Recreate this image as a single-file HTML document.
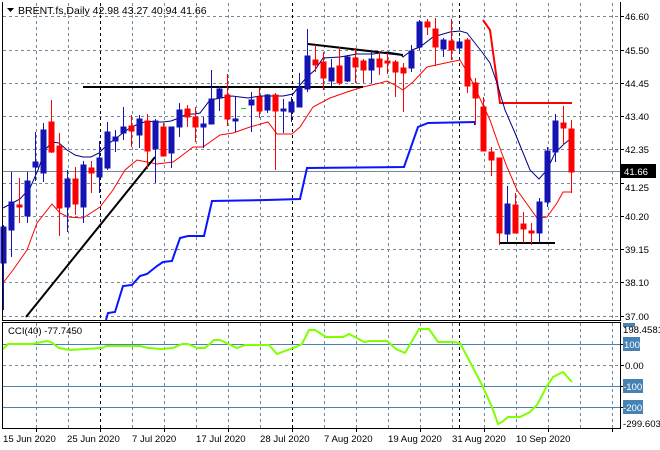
<!DOCTYPE html>
<html><head><meta charset="utf-8"><style>
html,body{margin:0;padding:0;background:#fff;}
svg{display:block;}
text{font-family:"Liberation Sans",sans-serif;font-size:9.6px;fill:#000;}
</style></head><body>
<svg width="660" height="450" viewBox="0 0 660 450" xmlns="http://www.w3.org/2000/svg">
<rect width="660" height="450" fill="#fff"/>
<g stroke="#778899" stroke-width="1" stroke-dasharray="3,3" fill="none">
<path d="M3 16.5H620M3 50.5H620M3 83.5H620M3 116.5H620M3 149.5H620M3 183.5H620M3 216.5H620M3 249.5H620M3 282.5H620M3 316.5H620"/>
<path d="M36.5 3V320M68.5 3V320M132.5 3V320M164.5 3V320M196.5 3V320M228.5 3V320M260.5 3V320M324.5 3V320M356.5 3V320M388.5 3V320M420.5 3V320M452.5 3V320M484.5 3V320M516.5 3V320M548.5 3V320M580.5 3V320M612.5 3V320"/>
<path d="M36.5 323V428M68.5 323V428M132.5 323V428M164.5 323V428M196.5 323V428M228.5 323V428M260.5 323V428M324.5 323V428M356.5 323V428M388.5 323V428M420.5 323V428M452.5 323V428M484.5 323V428M516.5 323V428M548.5 323V428M580.5 323V428M612.5 323V428"/>
<path d="M3 365.5H620"/>
</g>
<g stroke="#000" stroke-width="1" stroke-dasharray="3,3">
<path d="M100.5 3V320M292.5 3V320M459.5 3V320M100.5 323V428M292.5 323V428M459.5 323V428"/>
</g>
<path d="M3 171.5H620" stroke="#778899" stroke-width="1"/>
<polyline fill="none" stroke="#0a14ff" stroke-width="2" points="106,320 108,313 115,312 123,286 132,285 140,276 147,274 157,266 163,262 172,261 180,238 188,236 204,236 212,201 267,200 300,199 307,168 404,167 418,127 428,123 475,122 475,125"/>
<polyline fill="none" stroke="#ff0000" stroke-width="2" points="483,20 490,30 500,103 572,103"/>
<polyline fill="none" stroke="#000080" stroke-width="1" points="3,208 20,199 30,188 38,170 45,150 52,142 59,143 67,150 75,155 83,157 91,157 99,153 107,145 115,139 123,133 131,127 139,124 147,121 155,122 163,122 171,121 179,118 187,114 195,114 200,113 210,100 232,96 248,98 260,96 270,96 283,96 293,94 300,85 307,77 315,70 323,58 340,57 357,54 373,54 387,52 400,54 403,57 412,50 420,47 433,37 450,32 460,31 467,33 482,52 490,63 497,83 505,110 515,133 530,170 539,179 547,170 555,153 563,145 569,140"/>
<polyline fill="none" stroke="#ff0000" stroke-width="1" points="3,283 13,270 27,250 37,223 52,204 60,213 68,217 83,218 100,207 113,190 125,170 137,160 147,162 157,164 173,162 180,157 193,147 203,147 220,135 233,133 250,127 268,122 277,134 292,134 300,127 313,107 330,98 347,92 363,87 380,83 387,81 395,85 403,90 413,82 427,67 450,62 460,60 470,77 482,103 490,120 498,143 507,167 517,190 537,218 547,217 557,203 563,192 572,192"/>
<g stroke="#000" stroke-width="2" fill="none">
<path d="M83 87H363"/>
<path d="M308 44L403 55"/>
<path d="M26 317L155 157"/>
<path d="M500 243H555"/>
</g>
<g stroke-width="1">
<g stroke="#1414b4" fill="#1414b4">
<path d="M3.5 225V310M11.5 172V257M27.5 172V223M35.5 132V181M43.5 123V182M67.5 170V232M83.5 161V223M99.5 141V193M107.5 122V170M115.5 130V152M123.5 107V140M139.5 115V148M155.5 119V183M171.5 127V168M179.5 103V137M203.5 117V148M211.5 70V124M219.5 86V111M235.5 97V132M251.5 92V132M267.5 94V113M283.5 99V133M291.5 97V122M299.5 73V107M307.5 29V92M331.5 59V86M347.5 55V82M371.5 51V83M411.5 45V72M419.5 20V50M443.5 38V57M459.5 38V53M507.5 186V243M539.5 198V242M547.5 147V207M555.5 114V162"/>
<rect x="1" y="227" width="5" height="36"/><rect x="9" y="202" width="5" height="28"/><rect x="25" y="181" width="5" height="35"/><rect x="33" y="162" width="5" height="5"/><rect x="41" y="130" width="5" height="43"/><rect x="65" y="179" width="5" height="28"/><rect x="81" y="165" width="5" height="42"/><rect x="97" y="158" width="5" height="19"/><rect x="105" y="132" width="5" height="36"/><rect x="113" y="137" width="5" height="4"/><rect x="121" y="127" width="5" height="6"/><rect x="137" y="119" width="5" height="16"/><rect x="153" y="121" width="5" height="28"/><rect x="169" y="127" width="5" height="26"/><rect x="177" y="110" width="5" height="17"/><rect x="201" y="124" width="5" height="3"/><rect x="209" y="99" width="5" height="25"/><rect x="217" y="89" width="5" height="9"/><rect x="233" y="119" width="5" height="2"/><rect x="249" y="100" width="5" height="5"/><rect x="265" y="95" width="5" height="15"/><rect x="281" y="109" width="5" height="2"/><rect x="289" y="102" width="5" height="10"/><rect x="297" y="87" width="5" height="20"/><rect x="305" y="56" width="5" height="33"/><rect x="329" y="68" width="5" height="13"/><rect x="345" y="57" width="5" height="24"/><rect x="369" y="59" width="5" height="11"/><rect x="409" y="51" width="5" height="17"/><rect x="417" y="22" width="5" height="25"/><rect x="441" y="40" width="5" height="9"/><rect x="457" y="42" width="5" height="6"/><rect x="505" y="204" width="5" height="30"/><rect x="537" y="202" width="5" height="31"/><rect x="545" y="151" width="5" height="51"/><rect x="553" y="121" width="5" height="31"/>
</g>
<g stroke="#ff0000" fill="#ff0000">
<path d="M19.5 178V223M51.5 100V153M59.5 133V236M75.5 167V215M91.5 161V193M131.5 115V147M147.5 114V169M163.5 123V156M187.5 105V127M195.5 107V142M227.5 74V126M259.5 88V118M275.5 93V170M315.5 45V72M323.5 52V90M339.5 47V85M355.5 48V83M363.5 59V83M379.5 51V75M387.5 53V74M395.5 60V97M403.5 63V112M427.5 19V35M435.5 18V66M451.5 19V60M467.5 38V93M475.5 78V125M483.5 97V151M491.5 147V176M499.5 158V245M515.5 193V233M523.5 212V243M531.5 223V245M563.5 106V145M571.5 120V193"/>
<rect x="17" y="205" width="5" height="2"/><rect x="49" y="122" width="5" height="30"/><rect x="57" y="146" width="5" height="62"/><rect x="73" y="179" width="5" height="25"/><rect x="89" y="168" width="5" height="5"/><rect x="129" y="126" width="5" height="5"/><rect x="145" y="121" width="5" height="30"/><rect x="161" y="127" width="5" height="29"/><rect x="185" y="109" width="5" height="8"/><rect x="193" y="117" width="5" height="10"/><rect x="225" y="95" width="5" height="24"/><rect x="257" y="97" width="5" height="14"/><rect x="273" y="95" width="5" height="16"/><rect x="313" y="60" width="5" height="5"/><rect x="321" y="62" width="5" height="16"/><rect x="337" y="66" width="5" height="17"/><rect x="353" y="58" width="5" height="9"/><rect x="361" y="61" width="5" height="9"/><rect x="377" y="59" width="5" height="8"/><rect x="385" y="61" width="5" height="2"/><rect x="393" y="62" width="5" height="10"/><rect x="401" y="68" width="5" height="5"/><rect x="425" y="22" width="5" height="5"/><rect x="433" y="29" width="5" height="18"/><rect x="449" y="41" width="5" height="9"/><rect x="465" y="40" width="5" height="46"/><rect x="473" y="83" width="5" height="15"/><rect x="481" y="107" width="5" height="44"/><rect x="489" y="152" width="5" height="8"/><rect x="497" y="158" width="5" height="75"/><rect x="513" y="205" width="5" height="28"/><rect x="521" y="224" width="5" height="5"/><rect x="529" y="231" width="5" height="2"/><rect x="561" y="123" width="5" height="5"/><rect x="569" y="129" width="5" height="43"/>
</g>
<path d="M241 108.5H246" stroke="#00e000" stroke-width="1"/>
</g>
<g stroke="#4682b4" stroke-width="1">
<path d="M3 344.5H620M3 386.5H620M3 407.5H620"/>
</g>
<polyline fill="none" stroke="#7fff00" stroke-width="2" points="3,349 8,344 32,344 47,341 51,342 59,348 70,350 85,349 102,348 106,346 140,346 148,348 161,349 173,348 182,344 188,344 197,348 205,348 214,340 220,340 237,348 245,345 269,345 277,354 296,347 302,344 309,330 315,330 326,337 343,337 349,334 353,336 364,342 370,341 387,341 396,349 405,353 419,329 429,329 438,342 453,342 460,343 470,362 482,385 492,407 498,424 502,422 508,417 520,417 530,412 537,405 547,386 553,377 563,372 572,382"/>
<g stroke="#000" stroke-width="1" fill="none">
<path d="M2.5 2V320.5H620.5V2"/>
<path d="M2.5 322.5H620.5V428.5H2.5Z"/>
<path d="M620.5 16.5H624M620.5 50.5H624M620.5 83.5H624M620.5 116.5H624M620.5 149.5H624M620.5 183.5H624M620.5 216.5H624M620.5 249.5H624M620.5 282.5H624M620.5 316.5H624"/>
<path d="M620.5 344.5H624M620.5 365.5H624M620.5 386.5H624M620.5 407.5H624"/>
<path d="M36.5 428V432M100.5 428V432M164.5 428V432M228.5 428V432M292.5 428V432M356.5 428V432M420.5 428V432M484.5 428V432M548.5 428V432M612.5 428V432"/>
</g>
<path d="M7 8H14L10.5 12Z" fill="#000"/>
<text x="18" y="14" style="font-size:10.5px">BRENT.fs,Daily  42.98 43.27 40.94 41.66</text>
<text x="8" y="334">CCI(40) -77.7450</text>
<g>
<text x="625" y="20">46.60</text>
<text x="625" y="54">45.50</text>
<text x="625" y="87">44.45</text>
<text x="625" y="120">43.40</text>
<text x="625" y="153">42.35</text>
<text x="625" y="191">41.25</text>
<text x="625" y="220">40.20</text>
<text x="625" y="253">39.15</text>
<text x="625" y="286">38.10</text>
<text x="625" y="320">37.00</text>
</g>
<rect x="620" y="164" width="36" height="14" fill="#000"/>
<text x="624" y="175" style="fill:#fff">41.66</text>
<rect x="623" y="323" width="12" height="4" fill="#4682b4"/>
<text x="623" y="333">198.4581</text>
<rect x="623" y="337" width="17" height="14" fill="#4682b4"/>
<text x="624" y="348" style="fill:#fff">100</text>
<text x="625" y="369">0.00</text>
<rect x="623" y="379" width="20" height="14" fill="#4682b4"/>
<text x="623" y="390" style="fill:#fff">-100</text>
<rect x="623" y="400" width="20" height="14" fill="#4682b4"/>
<text x="623" y="411" style="fill:#fff">-200</text>
<text x="623" y="427">-299.603</text>
<g>
<text x="3" y="442">15 Jun 2020</text>
<text x="67" y="442">25 Jun 2020</text>
<text x="132" y="442">7 Jul 2020</text>
<text x="196" y="442">17 Jul 2020</text>
<text x="260" y="442">28 Jul 2020</text>
<text x="324" y="442">7 Aug 2020</text>
<text x="388" y="442">19 Aug 2020</text>
<text x="452" y="442">31 Aug 2020</text>
<text x="516" y="442">10 Sep 2020</text>
</g>
</svg>
</body></html>
